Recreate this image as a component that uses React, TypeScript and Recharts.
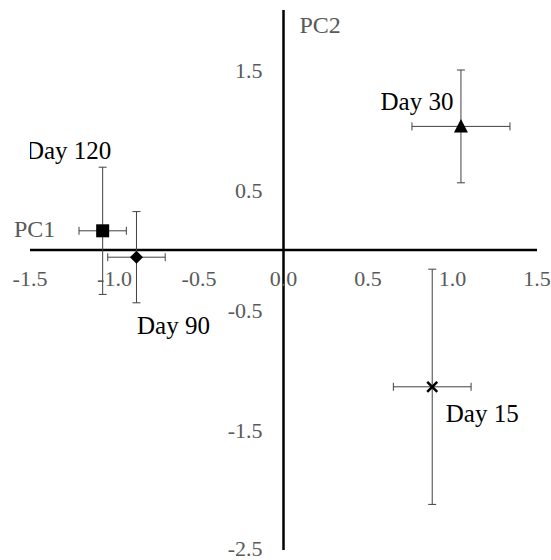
import React from "react";
import { ScatterChart, Scatter, XAxis, YAxis, ReferenceLine, ErrorBar } from "recharts";

const days = ["Day 15", "Day 30", "Day 90", "Day 120"];
const pc1 = [0.88, 1.05, -0.87, -1.07];
const pc2 = [-1.14, 1.03, -0.06, 0.16];
const pc1Err = [0.23, 0.29, 0.17, 0.14];
const pc2Err = [0.98, 0.47, 0.38, 0.53];

const xTicks = [-1.5, -1.0, -0.5, 0, 0.5, 1.0, 1.5];
const yTicks = [-2.5, -1.5, -0.5, 0.5, 1.5];

const W = 551;
const H = 560;
// axes get 1px each (a 0px axis is not drawn), the margins make up for it
const MARGIN = { top: 10, right: 14, bottom: 9, left: 29 };
const X_DOMAIN: [number, number] = [-1.5, 1.5];
const Y_DOMAIN: [number, number] = [-2.5, 2];

const FONT = "'Liberation Serif', 'Times New Roman', serif";
const GREY = "#595959";
const BAR = "#404040";

// where the axes cross, in pixels (used to park the tick labels next to the zero lines)
const plotW = W - MARGIN.left - 1 - MARGIN.right;
const plotH = H - MARGIN.top - MARGIN.bottom - 1;
const zeroX = MARGIN.left + 1 + (plotW * (0 - X_DOMAIN[0])) / (X_DOMAIN[1] - X_DOMAIN[0]);
const zeroY = MARGIN.top + (plotH * (Y_DOMAIN[1] - 0)) / (Y_DOMAIN[1] - Y_DOMAIN[0]);

// marker style + label offset for each series
const seriesStyle = [
  { marker: "cross", dx: 50, dy: 26 },
  { marker: "triangle", dx: -44, dy: -25 },
  { marker: "diamond", dx: 37, dy: 68 },
  { marker: "square", dx: -34, dy: -81 },
];

const Marker = ({ kind, cx, cy }: any) => {
  if (kind === "square") return <rect x={cx - 6.5} y={cy - 6.5} width={13} height={13} fill="#000" />;
  if (kind === "diamond")
    return <path d={`M${cx},${cy - 6.5}L${cx + 6.5},${cy}L${cx},${cy + 6.5}L${cx - 6.5},${cy}Z`} fill="#000" />;
  if (kind === "triangle")
    return <path d={`M${cx},${cy - 7.5}L${cx + 7},${cy + 6}L${cx - 7},${cy + 6}Z`} fill="#000" />;
  return (
    <path d={`M${cx - 5},${cy - 5}L${cx + 5},${cy + 5}M${cx + 5},${cy - 5}L${cx - 5},${cy + 5}`} stroke="#000" strokeWidth={2.5} />
  );
};

const makeShape = (style: any) => (props: any) => {
  const { cx, cy, payload } = props;
  return (
    <g>
      <Marker kind={style.marker} cx={cx} cy={cy} />
      <text x={cx + style.dx} y={cy + style.dy} dy="0.35em" textAnchor="middle"
        style={{ fontFamily: FONT, fontSize: 25, fill: "#000" }}>
        {payload.name}
      </text>
    </g>
  );
};

const XTick = ({ x, payload }: any) => (
  <text x={x} y={zeroY + 28} dy="0.35em" textAnchor="middle" style={{ fontFamily: FONT, fontSize: 22, fill: GREY }}>
    {payload.value.toFixed(1)}
  </text>
);

// the lowest label sits right at the bottom edge, keep it inside the picture
const YTick = ({ y, payload }: any) => (
  <text x={zeroX - 21} y={Math.min(y, H - 12)} dy="0.35em" textAnchor="end" style={{ fontFamily: FONT, fontSize: 22, fill: GREY }}>
    {payload.value.toFixed(1)}
  </text>
);

export default function App() {
  return (
    <div style={{ position: "absolute", left: 0, top: 0, width: W, height: H, background: "#fff" }}>
      <ScatterChart width={W} height={H} margin={MARGIN}>
        <XAxis type="number" dataKey="x" domain={X_DOMAIN} ticks={xTicks} height={1}
          axisLine={false} tickLine={false} tick={(p: any) => <XTick {...p} />} interval={0} allowDataOverflow />
        <YAxis type="number" dataKey="y" domain={Y_DOMAIN} ticks={yTicks} width={1}
          axisLine={false} tickLine={false} tick={(p: any) => <YTick {...p} />} interval={0} allowDataOverflow />
        <ReferenceLine y={0} stroke="#000" strokeWidth={2.5}
          label={({ viewBox }: any) => (
            <text x={viewBox.x - 16} y={viewBox.y - 21} dy="0.35em"
              style={{ fontFamily: FONT, fontSize: 24, fill: GREY }}>PC1</text>
          )} />
        <ReferenceLine x={0} stroke="#000" strokeWidth={2.5}
          label={({ viewBox }: any) => (
            <text x={viewBox.x + 16} y={viewBox.y + 15} dy="0.35em"
              style={{ fontFamily: FONT, fontSize: 24, fill: GREY }}>PC2</text>
          )} />
        {days.map((name, i) => (
          <Scatter key={name} name={name} isAnimationActive={false}
            data={[{ name, x: pc1[i], y: pc2[i], ex: pc1Err[i], ey: pc2Err[i] }]}
            shape={makeShape(seriesStyle[i])}>
            <ErrorBar dataKey="ex" direction="x" width={4} stroke={BAR} strokeWidth={1} />
            <ErrorBar dataKey="ey" direction="y" width={4} stroke={BAR} strokeWidth={1} />
          </Scatter>
        ))}
      </ScatterChart>
    </div>
  );
}
